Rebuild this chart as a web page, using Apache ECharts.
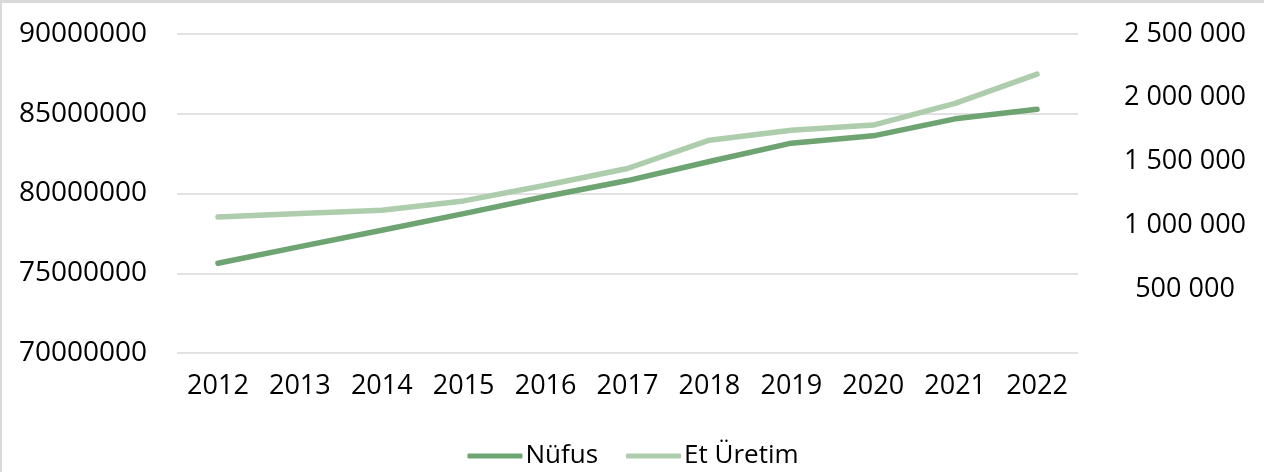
<!DOCTYPE html>
<html>
<head>
<meta charset="utf-8">
<script src="https://cdn.jsdelivr.net/npm/echarts@6/dist/echarts.min.js"></script>
<style>
  html, body { margin: 0; padding: 0; background: #fff; }
  #chartContainer {
    width: 1264px; height: 472px; box-sizing: border-box;
    border-top: 3px solid #d9d9d9; border-left: 2px solid #d9d9d9;
  }
</style>
</head>
<body>
<div id="chartContainer"></div>
<script>
var years = ['2012', '2013', '2014', '2015', '2016', '2017', '2018', '2019', '2020', '2021', '2022'];
var nufus = [75627384, 76667864, 77695904, 78741053, 79814871, 80810525, 82003882, 83154997, 83614362, 84680273, 85279553];
var etUretim = [1066000, 1093000, 1119000, 1192000, 1315000, 1446000, 1668000, 1746000, 1786000, 1956000, 2186000];

var chart = echarts.init(document.getElementById('chartContainer'), null, { renderer: 'canvas' });

var font = '"Open Sans", "Liberation Sans", sans-serif';
var darkGreen = '#6ea472';
var lightGreen = '#aecdad';

// Excel style "# ###" formatting, zero shows as empty
function spaced(v) {
    if (v === 0) return '';
    return String(v).replace(/\B(?=(\d{3})+(?!\d))/g, ' ');
}

chart.setOption({
    animation: false,
    textStyle: { fontFamily: font },
    grid: {
        left: 175,
        right: 186,
        top: 31,
        bottom: 119
    },
    legend: {
        bottom: 3,
        left: 'center',
        padding: 0,
        itemWidth: 55,
        itemHeight: 5,
        itemGap: 28,
        icon: 'roundRect',
        textStyle: { fontFamily: font, fontSize: 26, color: '#000', padding: [0, 0, 0, -2] },
        data: ['Nüfus', 'Et Üretim']
    },
    xAxis: {
        type: 'category',
        data: years,
        boundaryGap: true,
        axisLine: { show: false },
        axisTick: { show: false },
        axisLabel: { fontFamily: font, fontSize: 27, color: '#000', margin: 20 }
    },
    yAxis: [{
        type: 'value',
        min: 70000000,
        max: 90000000,
        interval: 5000000,
        axisLine: { show: false },
        axisTick: { show: false },
        splitLine: { lineStyle: { color: '#d9d9d9', width: 1.5 } },
        axisLabel: {
            fontFamily: font, fontSize: 28, color: '#000', margin: 30,
            formatter: function (v) { return String(v); }
        }
    }, {
        type: 'value',
        min: 0,
        max: 2500000,
        interval: 500000,
        position: 'right',
        axisLine: { show: false },
        axisTick: { show: false },
        splitLine: { show: false },
        axisLabel: {
            fontFamily: font, fontSize: 27, color: '#000',
            margin: 107, align: 'center',
            formatter: spaced
        }
    }],
    series: [{
        name: 'Nüfus',
        type: 'line',
        data: nufus,
        yAxisIndex: 0,
        symbol: 'none',
        lineStyle: { color: darkGreen, width: 5.5, cap: 'round', join: 'round' },
        itemStyle: { color: darkGreen }
    }, {
        name: 'Et Üretim',
        type: 'line',
        data: etUretim,
        yAxisIndex: 1,
        symbol: 'none',
        lineStyle: { color: lightGreen, width: 5.5, cap: 'round', join: 'round' },
        itemStyle: { color: lightGreen }
    }]
});
</script>
</body>
</html>
